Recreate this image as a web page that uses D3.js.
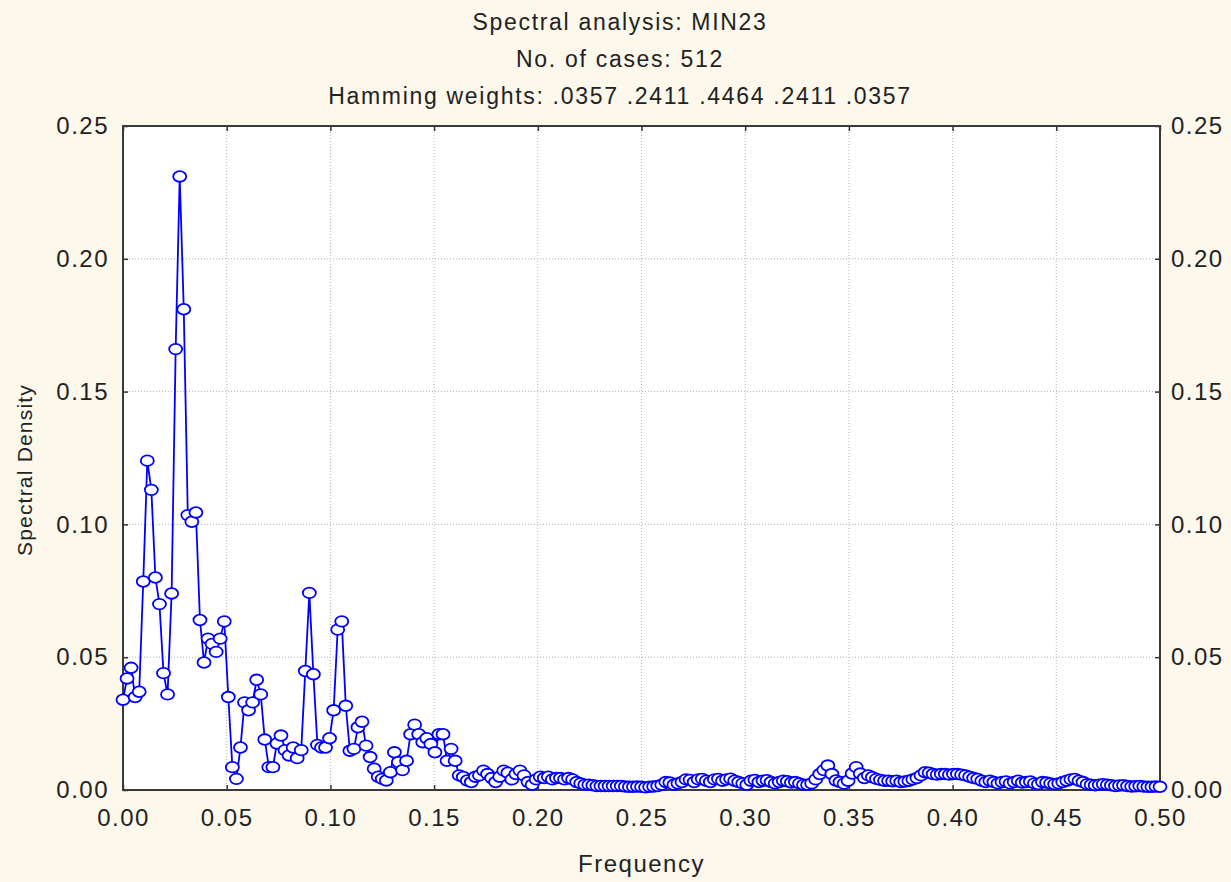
<!DOCTYPE html>
<html>
<head>
<meta charset="utf-8">
<script src="https://cdn.jsdelivr.net/npm/d3@7"></script>
<style>
  body { margin: 0; background: #fdf8ec; }
  svg { display: block; }
  text { font-family: "Liberation Sans", Arial, sans-serif; fill: #222; }
</style>
</head>
<body>
<div id="chart"></div>
<script>
var width = 1231,
  height = 882;

var titleLines = ["Spectral analysis: MIN23", "No. of cases: 512", "Hamming weights: .0357 .2411 .4464 .2411 .0357"];
var xTicks = [0, 0.05, 0.10, 0.15, 0.20, 0.25, 0.30, 0.35, 0.40, 0.45, 0.50];
var yTicks = [0, 0.05, 0.10, 0.15, 0.20, 0.25];
var nCases = 512;

// spectral density for frequencies k / 512, k = 0..256
var density = [
  0.034, 0.042, 0.046, 0.035, 0.037, 0.0785, 0.124, 0.113, 0.080, 0.070,
  0.044, 0.036, 0.074, 0.166, 0.231, 0.181, 0.1035, 0.101, 0.1045, 0.064,
  0.048, 0.057, 0.055, 0.052, 0.057, 0.0635, 0.035, 0.0086, 0.0042, 0.016,
  0.033, 0.030, 0.033, 0.0415, 0.036, 0.019, 0.0086, 0.0086, 0.0175, 0.0205,
  0.015, 0.013, 0.016, 0.012, 0.015, 0.0448, 0.0742, 0.0436, 0.017, 0.016,
  0.016, 0.0195, 0.030, 0.0604, 0.0635, 0.0317, 0.0148, 0.0155, 0.0236, 0.0257,
  0.0167, 0.0124, 0.008, 0.005, 0.0042, 0.0036, 0.0067, 0.0142, 0.0105, 0.0075,
  0.011, 0.021, 0.0246, 0.021, 0.018, 0.0195, 0.0173, 0.0142, 0.021, 0.021,
  0.011, 0.0155, 0.011, 0.0055, 0.0049, 0.0036, 0.003, 0.005, 0.0055, 0.0073,
  0.006, 0.0045, 0.003, 0.005, 0.0073, 0.0065, 0.004, 0.006, 0.0073, 0.0055,
  0.003, 0.002, 0.004, 0.005, 0.0045, 0.005, 0.004, 0.0045, 0.0045, 0.004,
  0.0045, 0.004, 0.003, 0.0025, 0.002, 0.002, 0.0018, 0.0015, 0.0015, 0.0015,
  0.0015, 0.0015, 0.0015, 0.0015, 0.0013, 0.0012, 0.0012, 0.0013, 0.0012, 0.001,
  0.0012, 0.0013, 0.0015, 0.002, 0.003, 0.0028, 0.002, 0.0025, 0.003, 0.004,
  0.0038, 0.003, 0.004, 0.0042, 0.0035, 0.003, 0.004, 0.0042, 0.0035, 0.004,
  0.0043, 0.0035, 0.003, 0.0025, 0.002, 0.0035, 0.0038, 0.003, 0.0035, 0.0037,
  0.003, 0.0025, 0.003, 0.0035, 0.0033, 0.0028, 0.003, 0.0025, 0.002, 0.002,
  0.0025, 0.004, 0.006, 0.0075, 0.0092, 0.006, 0.0036, 0.003, 0.0024, 0.0035,
  0.0062, 0.0086, 0.0062, 0.0045, 0.0055, 0.0048, 0.0042, 0.0038, 0.0035, 0.0035,
  0.0033, 0.0035, 0.003, 0.0032, 0.0035, 0.004, 0.0045, 0.0055, 0.0067, 0.0065,
  0.006, 0.0058, 0.006, 0.006, 0.0058, 0.006, 0.006, 0.0058, 0.0055, 0.005,
  0.0045, 0.0042, 0.0035, 0.003, 0.0035, 0.003, 0.0025, 0.003, 0.0032, 0.0025,
  0.003, 0.0035, 0.0028, 0.003, 0.0032, 0.0025, 0.0022, 0.003, 0.0028, 0.0025,
  0.0022, 0.0025, 0.003, 0.0035, 0.004, 0.0042, 0.0035, 0.003, 0.0022, 0.002,
  0.0018, 0.002, 0.0022, 0.002, 0.0018, 0.0015, 0.0017, 0.0018, 0.0015, 0.0013,
  0.0014, 0.0015, 0.0013, 0.0012, 0.0012, 0.0013, 0.0012
];

var points = density.map(function(v, k) {
  return { freq: k / nCases, value: v };
});

var plotLeft = 123, plotRight = 1160, plotTop = 126, plotBottom = 790;

var x = d3.scaleLinear().domain([0, 0.5]).range([plotLeft, plotRight]);
var y = d3.scaleLinear().domain([0, 0.25]).range([plotBottom, plotTop]);

var svg = d3.select("#chart").append("svg")
  .attr("width", width)
  .attr("height", height);

svg.append("rect")
  .attr("width", width)
  .attr("height", height)
  .attr("fill", "#fdf8ec");

svg.append("rect")
  .attr("x", plotLeft)
  .attr("y", plotTop)
  .attr("width", plotRight - plotLeft)
  .attr("height", plotBottom - plotTop)
  .attr("fill", "#fff");

// dotted grid
svg.append("g")
  .selectAll("line")
  .data(xTicks.slice(1, -1))
  .enter().append("line")
    .attr("x1", function(d) { return x(d); })
    .attr("x2", function(d) { return x(d); })
    .attr("y1", plotTop)
    .attr("y2", plotBottom)
    .attr("stroke", "#b4b4b4")
    .attr("stroke-dasharray", "1,2");

svg.append("g")
  .selectAll("line")
  .data(yTicks.slice(1, -1))
  .enter().append("line")
    .attr("x1", plotLeft)
    .attr("x2", plotRight)
    .attr("y1", function(d) { return y(d); })
    .attr("y2", function(d) { return y(d); })
    .attr("stroke", "#b4b4b4")
    .attr("stroke-dasharray", "1,2");

var fmt = d3.format(".2f");

function styleAxis(g) {
  g.select(".domain").remove();
  g.selectAll(".tick line").attr("stroke", "#333").attr("stroke-width", 1.5);
  g.selectAll(".tick text")
    .attr("fill", "#222")
    .style("font-size", "24px")
    .style("letter-spacing", "1.5px")
    .style("font-family", "'Liberation Sans', Arial, sans-serif");
}

svg.append("g")
    .attr("transform", "translate(0," + plotBottom + ")")
    .call(d3.axisBottom(x).tickValues(xTicks).tickFormat(fmt).tickSize(-5).tickPadding(19))
    .call(styleAxis);

svg.append("g")
    .attr("transform", "translate(0," + plotTop + ")")
    .call(d3.axisTop(x).tickValues(xTicks).tickFormat("").tickSize(-5))
    .call(styleAxis);

svg.append("g")
    .attr("transform", "translate(" + plotLeft + ",0)")
    .call(d3.axisLeft(y).tickValues(yTicks).tickFormat(fmt).tickSize(-5).tickPadding(14))
    .call(styleAxis);

svg.append("g")
    .attr("transform", "translate(" + plotRight + ",0)")
    .call(d3.axisRight(y).tickValues(yTicks).tickFormat(fmt).tickSize(-5).tickPadding(11))
    .call(styleAxis);

// frame
svg.append("rect")
  .attr("x", plotLeft)
  .attr("y", plotTop)
  .attr("width", plotRight - plotLeft)
  .attr("height", plotBottom - plotTop)
  .attr("fill", "none")
  .attr("stroke", "#3a3a3a")
  .attr("stroke-width", 2);

var line = d3.line()
  .x(function(d) { return x(d.freq); })
  .y(function(d) { return y(d.value); });

var plot = svg.append("g");

plot.append("path")
  .datum(points)
  .attr("fill", "none")
  .attr("stroke", "#0000ff")
  .attr("stroke-width", 1.8)
  .attr("stroke-linejoin", "round")
  .attr("d", line);

plot.selectAll("ellipse")
  .data(points)
  .enter().append("ellipse")
    .attr("cx", function(d) { return x(d.freq); })
    .attr("cy", function(d) { return y(d.value); })
    .attr("rx", 6.5)
    .attr("ry", 5.3)
    .attr("fill", "#fff")
    .attr("stroke", "#0000ff")
    .attr("stroke-width", 1.8);

// titles
svg.append("g")
  .selectAll("text")
  .data(titleLines)
  .enter().append("text")
    .attr("x", 620)
    .attr("y", function(d, i) { return 30 + i * 37; })
    .attr("text-anchor", "middle")
    .style("font-size", "23px")
    .style("letter-spacing", "1.7px")
    .text(function(d) { return d; });

svg.append("text")
  .attr("x", (plotLeft + plotRight) / 2)
  .attr("y", 872)
  .attr("text-anchor", "middle")
  .style("font-size", "24px")
  .style("letter-spacing", "1.5px")
  .text("Frequency");

svg.append("text")
  .attr("transform", "translate(32,470) rotate(-90)")
  .attr("text-anchor", "middle")
  .style("font-size", "21px")
  .style("letter-spacing", "1.2px")
  .text("Spectral Density");
</script>
</body>
</html>
